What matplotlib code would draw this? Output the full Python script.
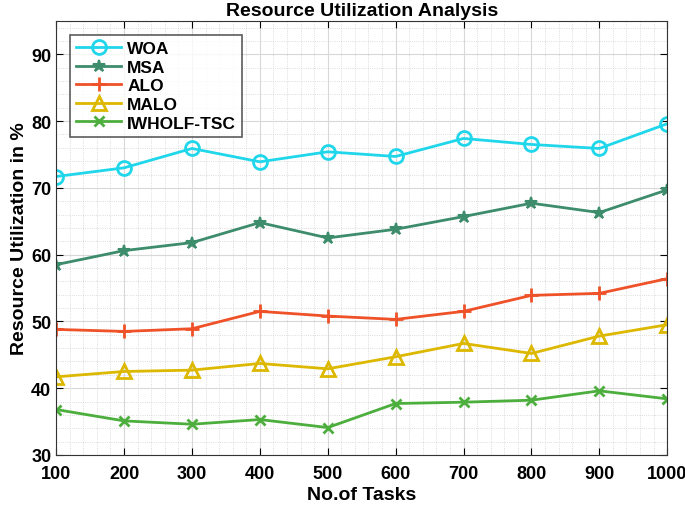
import numpy as np
import matplotlib
matplotlib.use("Agg")
import matplotlib.pyplot as plt
from matplotlib.ticker import MultipleLocator

plt.rcParams['font.family'] = ['Liberation Sans', 'DejaVu Sans']
plt.rcParams['font.weight'] = 'bold'

# data
tasks = [100, 200, 300, 400, 500, 600, 700, 800, 900, 1000]
woa = [71.7, 73.0, 75.9, 73.9, 75.4, 74.7, 77.4, 76.5, 75.9, 79.6]
msa = [58.5, 60.6, 61.8, 64.8, 62.5, 63.8, 65.7, 67.7, 66.3, 69.7]
alo = [48.8, 48.5, 48.9, 51.5, 50.8, 50.3, 51.5, 53.9, 54.2, 56.4]
malo = [41.7, 42.5, 42.7, 43.7, 42.9, 44.7, 46.7, 45.2, 47.8, 49.5]
iwholf = [36.8, 35.1, 34.6, 35.3, 34.1, 37.7, 37.9, 38.2, 39.6, 38.4]

fig = plt.figure(figsize=(6.85, 5.1), dpi=100)
ax = fig.add_axes([0.082, 0.106, 0.892, 0.851])

ax.plot(tasks, woa, color='#1fd6ea', lw=2, marker='o', ms=10, mfc='none', mew=2, label='WOA')
ax.plot(tasks, msa, color='#3d8c6c', lw=2, marker='*', ms=9, mew=1.5, label='MSA')
ax.plot(tasks, alo, color='#ef5128', lw=2, marker='+', ms=10, mew=2, label='ALO')
ax.plot(tasks, malo, color='#ddb800', lw=2, marker='^', ms=10, mfc='none', mew=2, label='MALO')
ax.plot(tasks, iwholf, color='#4cae3c', lw=2, marker='x', ms=7, mew=2, label='IWHOLF-TSC')

ax.set_xlim(100, 1000)
ax.set_ylim(30, 95)
ax.set_xticks(tasks)
ax.set_yticks([30, 40, 50, 60, 70, 80, 90])
ax.xaxis.set_minor_locator(MultipleLocator(20))
ax.yaxis.set_minor_locator(MultipleLocator(2))
ax.grid(True, which='major', color='#d8d8d8', lw=0.8)
ax.grid(True, which='minor', color='#d0d0d0', lw=0.6, ls=':')
ax.tick_params(which='both', direction='in', top=True, right=True)
ax.tick_params(which='minor', length=0)
ax.tick_params(which='major', labelsize=13, length=5)
ax.tick_params(axis='x', pad=7)
for s in ax.spines.values():
    s.set_color('#333333')

ax.set_xlabel('No.of Tasks', fontsize=14, fontweight='bold', labelpad=3)
ax.set_ylabel('Resource Utilization in %', fontsize=14, fontweight='bold', labelpad=2)
ax.set_title('Resource Utilization Analysis', fontsize=14, fontweight='bold', pad=4)

leg = ax.legend(loc='upper left', fontsize=12.5, frameon=True, fancybox=False,
                edgecolor='#333333', borderaxespad=0.8, handlelength=2.6,
                labelspacing=0.2, borderpad=0.35, handletextpad=0.35)
leg.get_frame().set_linewidth(1.2)

fig.savefig('out.png', dpi=100)
